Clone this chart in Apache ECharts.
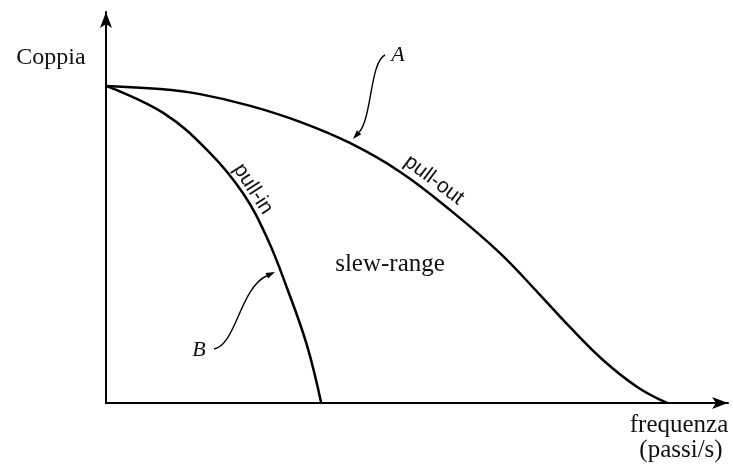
<!DOCTYPE html>
<html>
<head>
<meta charset="utf-8">
<script src="https://cdn.jsdelivr.net/npm/echarts@6/dist/echarts.min.js"></script>
<style>
  html, body { margin: 0; padding: 0; background: #fff; }
  #chart { width: 733px; height: 465px; }
</style>
</head>
<body>
<div id="chart"></div>
<script>
// curva A (pull-out): [frequenza, coppia]
const pullOut = [
  [0, 81.1], [8.7, 80.3], [15.1, 79.0], [23.2, 76.0], [31.2, 71.9],
  [39.2, 66.5], [47.3, 59.1], [55.3, 49.4], [63.3, 38.4], [69.8, 27.6],
  [74.6, 19.4], [79.9, 11.0], [85.4, 4.1], [90.2, 0]
];
// curva B (pull-in)
const pullIn = [
  [0, 81.1], [9.2, 74.2], [16.7, 64.0], [22.0, 53.7], [25.9, 42.2],
  [29.1, 29.4], [32.3, 14.8], [34.6, 0]
];

const serif = "'Liberation Serif', 'DejaVu Serif', serif";
const sans = "'Liberation Sans', 'DejaVu Sans', sans-serif";

// freccia di richiamo (bezier + punta)
function leader(p0, p1, p2, p3) {
  const dx = p3[0] - p2[0], dy = p3[1] - p2[1];
  const len = Math.sqrt(dx * dx + dy * dy);
  const ux = dx / len, uy = dy / len;
  const bx = p3[0] - ux * 9, by = p3[1] - uy * 9;
  return [
    {
      type: 'bezierCurve',
      shape: { x1: p0[0], y1: p0[1], cpx1: p1[0], cpy1: p1[1], cpx2: p2[0], cpy2: p2[1], x2: bx, y2: by },
      style: { stroke: '#000', lineWidth: 1.4, fill: null }
    },
    {
      type: 'polygon',
      shape: { points: [p3, [bx - uy * 3, by + ux * 3], [bx + uy * 3, by - ux * 3]] },
      style: { fill: '#000' }
    }
  ];
}

function label(text, x, y, font, size, rot, italic) {
  return {
    type: 'text', x: x, y: y, rotation: (rot || 0) * Math.PI / 180,
    style: {
      text: text, fill: '#111', fontFamily: font, fontSize: size,
      fontStyle: italic ? 'italic' : 'normal',
      align: 'center', verticalAlign: 'middle'
    }
  };
}

const chart = echarts.init(document.getElementById('chart'));
chart.setOption({
  animation: false,
  backgroundColor: '#fff',
  grid: { left: 106, right: 5, top: 12, bottom: 62 },
  xAxis: {
    type: 'value', min: 0, max: 100,
    axisLine: { lineStyle: { color: '#000', width: 2 }, symbol: ['none', 'arrow'], symbolSize: [9, 16] },
    axisTick: { show: false }, axisLabel: { show: false }, splitLine: { show: false }
  },
  yAxis: {
    type: 'value', min: 0, max: 100,
    axisLine: { show: true, lineStyle: { color: '#000', width: 2 }, symbol: ['none', 'arrow'], symbolSize: [9, 16] },
    axisTick: { show: false }, axisLabel: { show: false }, splitLine: { show: false }
  },
  series: [
    { name: 'pull-out', type: 'line', data: pullOut, smooth: 0.4, showSymbol: false,
      lineStyle: { color: '#000', width: 2.5 } },
    { name: 'pull-in', type: 'line', data: pullIn, smooth: 0.4, showSymbol: false,
      lineStyle: { color: '#000', width: 2.5 } }
  ],
  graphic: [
    label('Coppia', 51, 58, serif, 24),
    label('A', 398, 55, serif, 22, 0, true),
    label('B', 199, 350, serif, 22, 0, true),
    label('pull-in', 253, 189, sans, 21, -57),
    label('pull-out', 434, 180, sans, 21, -37),
    label('slew-range', 390, 264, serif, 25),
    label('frequenza', 679, 425, serif, 25),
    label('(passi/s)', 681, 450, serif, 25)
  ]
    .concat(leader([385, 55], [370, 62], [372, 118], [353, 139]))
    .concat(leader([214, 349], [236, 345], [240, 288], [275, 272]))
});
</script>
</body>
</html>
